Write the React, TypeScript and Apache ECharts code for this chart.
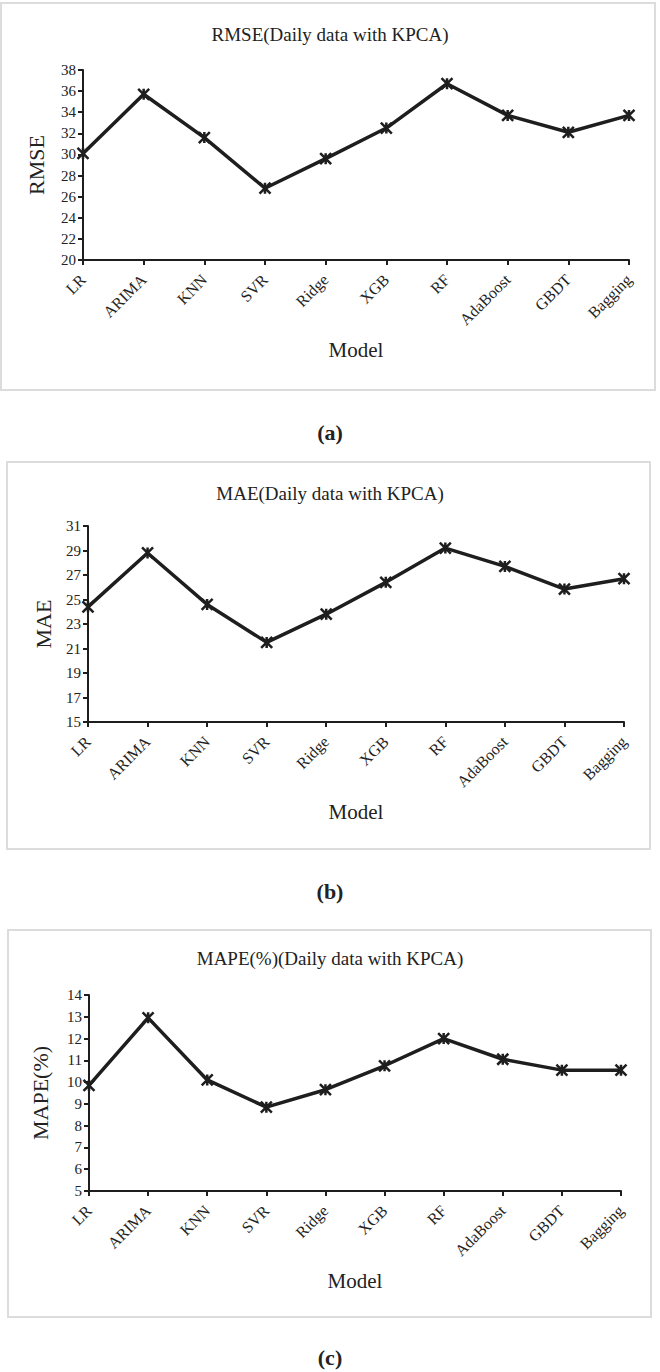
import React, { useEffect, useRef } from "react";
import * as echarts from "echarts";

const models = ["LR", "ARIMA", "KNN", "SVR", "Ridge", "XGB", "RF", "AdaBoost", "GBDT", "Bagging"];
const rmseValues = [30.1, 35.7, 31.6, 26.8, 29.6, 32.5, 36.7, 33.7, 32.1, 33.7];
const maeValues = [24.4, 28.8, 24.6, 21.5, 23.8, 26.4, 29.2, 27.7, 25.85, 26.7];
const mapeValues = [9.85, 12.95, 10.1, 8.85, 9.65, 10.75, 12.0, 11.05, 10.55, 10.55];
const rmseTicks = [20, 22, 24, 26, 28, 30, 32, 34, 36, 38];
const maeTicks = [15, 17, 19, 21, 23, 25, 27, 29, 31];
const mapeTicks = [5, 6, 7, 8, 9, 10, 11, 12, 13, 14];
const chartTitles = ["RMSE(Daily data with KPCA)", "MAE(Daily data with KPCA)", "MAPE(%)(Daily data with KPCA)"];
const yNames = ["RMSE", "MAE", "MAPE(%)"];
const xName = "Model";
const panelLabels = ["(a)", "(b)", "(c)"];

const FONT = "'Liberation Serif', 'DejaVu Serif', serif";
const INK = "#1e1e1e";

const panels = [
  { values: rmseValues, ticks: rmseTicks, grid: { left: 83, top: 70, width: 546, height: 190 }, box: { x: 1, y: 3, w: 654, h: 387 }, titleY: 20, yGap: 36, labelY: 432 },
  { values: maeValues, ticks: maeTicks, grid: { left: 88, top: 526, width: 536, height: 196 }, box: { x: 7, y: 462, w: 643, h: 387 }, titleY: 479, yGap: 34, labelY: 891 },
  { values: mapeValues, ticks: mapeTicks, grid: { left: 89, top: 995, width: 532, height: 196 }, box: { x: 8, y: 930, w: 643, h: 387 }, titleY: 944, yGap: 38, labelY: 1357 },
];

const starSymbol = "path://M0,0L10,10M10,0L0,10M5,0L5,10";

export default function App() {
  const ref = useRef<HTMLDivElement>(null);
  useEffect(() => {
    document.body.style.margin = "0";
    const chart = echarts.init(ref.current!, null, { renderer: "svg" });
    const option: any = {
      animation: false,
      backgroundColor: "#ffffff",
      textStyle: { fontFamily: FONT },
      title: panels.map((p, i) => ({
        text: chartTitles[i],
        left: "center",
        top: p.titleY,
        textStyle: { fontFamily: FONT, fontWeight: "normal", fontSize: 19, color: "#222" },
      })),
      grid: panels.map((p) => ({ ...p.grid, containLabel: false })),
      xAxis: panels.map((p, i) => ({
        type: "category",
        gridIndex: i,
        data: models,
        boundaryGap: false,
        name: xName,
        nameLocation: "middle",
        nameGap: 79,
        nameTextStyle: { fontFamily: FONT, fontSize: 21, color: "#222" },
        axisLine: { lineStyle: { color: INK, width: 2 } },
        axisTick: { show: true, inside: false, length: 5, alignWithLabel: true, lineStyle: { color: INK, width: 2 } },
        axisLabel: { rotate: 45, margin: 17, fontFamily: FONT, fontSize: 16, color: "#222", interval: 0 },
        splitLine: { show: false },
      })),
      yAxis: panels.map((p, i) => ({
        type: "value",
        gridIndex: i,
        min: p.ticks[0],
        max: p.ticks[p.ticks.length - 1],
        name: yNames[i],
        nameLocation: "middle",
        nameRotate: 90,
        nameGap: p.yGap,
        nameTextStyle: { fontFamily: FONT, fontSize: 22, color: "#222" },
        axisLine: { show: true, lineStyle: { color: INK, width: 2 } },
        axisTick: { show: true, inside: false, length: 5, customValues: p.ticks, lineStyle: { color: INK, width: 2 } },
        axisLabel: { margin: 7, fontFamily: FONT, fontSize: 15, color: "#222", customValues: p.ticks },
        splitLine: { show: false },
      })),
      series: panels.map((p, i) => ({
        type: "line",
        xAxisIndex: i,
        yAxisIndex: i,
        data: p.values,
        symbol: starSymbol,
        symbolSize: 11,
        showSymbol: true,
        lineStyle: { color: INK, width: 3.5 },
        itemStyle: { color: "rgba(0,0,0,0)", borderColor: INK, borderWidth: 2.5 },
        z: 3,
      })),
      graphic: [
        ...panels.map((p) => ({
          type: "rect",
          shape: { x: p.box.x, y: p.box.y, width: p.box.w, height: p.box.h },
          style: { fill: "none", stroke: "#dcdcdc", lineWidth: 2 },
          silent: true,
          z: -1,
        })),
        ...panels.map((p, i) => ({
          type: "text",
          x: 330,
          y: p.labelY,
          style: {
            text: panelLabels[i],
            fontFamily: FONT,
            fontWeight: "bold",
            fontSize: 22,
            fill: "#222",
            textAlign: "center",
            textVerticalAlign: "middle",
          },
        })),
      ],
    };
    chart.setOption(option);
    return () => chart.dispose();
  }, []);
  return <div ref={ref} style={{ width: 660, height: 1372 }} />;
}
